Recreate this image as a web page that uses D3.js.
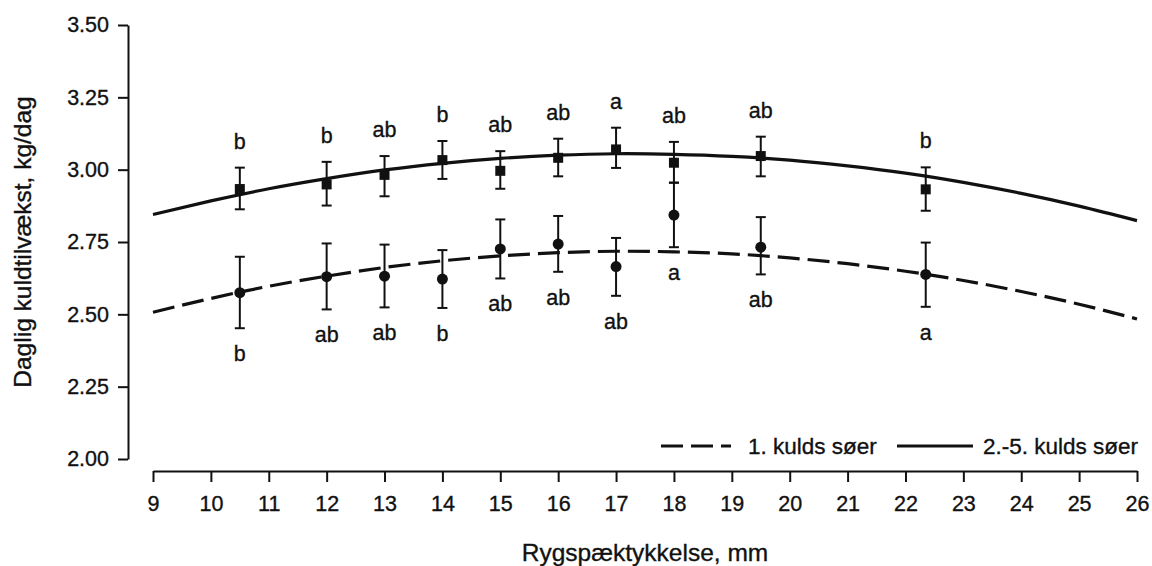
<!DOCTYPE html>
<html>
<head>
<meta charset="utf-8">
<script src="https://cdn.jsdelivr.net/npm/d3@7"></script>
<style>
  body { margin: 0; background: #fff; }
  text { font-family: Arial, "Liberation Sans", sans-serif; fill: #111; stroke: #111; stroke-width: 0.35px; }
</style>
</head>
<body>
<div id="chart"></div>
<script>
// data
var pointX = [10.5, 12, 13, 14, 15, 16, 17, 18, 19.5, 22.35];

// 2.-5. kulds søer (squares)
var laterMean  = [2.933, 2.949, 2.982, 3.033, 2.996, 3.041, 3.070, 3.024, 3.047, 2.932];
var laterUpper = [3.007, 3.027, 3.047, 3.099, 3.064, 3.107, 3.145, 3.096, 3.114, 3.008];
var laterLower = [2.863, 2.876, 2.908, 2.968, 2.934, 2.977, 3.006, 2.955, 2.977, 2.858];
var laterLetters = ["b", "b", "ab", "b", "ab", "ab", "a", "ab", "ab", "b"];

// 1. kulds søer (circles)
var firstMean  = [2.575, 2.630, 2.632, 2.622, 2.726, 2.743, 2.665, 2.843, 2.732, 2.638];
var firstUpper = [2.699, 2.745, 2.741, 2.722, 2.828, 2.840, 2.764, 2.955, 2.836, 2.748];
var firstLower = [2.452, 2.517, 2.524, 2.522, 2.624, 2.647, 2.564, 2.732, 2.638, 2.526];
var firstLetters = ["b", "ab", "ab", "b", "ab", "ab", "ab", "a", "ab", "a"];

// fitted curves, read at each mm
var curveX     = [9, 10, 11, 12, 13, 14, 15, 16, 17, 18, 19, 20, 21, 22, 23, 24, 25, 26];
var laterCurve = [2.845, 2.892, 2.934, 2.969, 2.999, 3.022, 3.039, 3.050, 3.055, 3.053, 3.046, 3.033, 3.013, 2.988, 2.956, 2.918, 2.874, 2.824];
var firstCurve = [2.507, 2.555, 2.597, 2.632, 2.662, 2.685, 2.702, 2.713, 2.718, 2.716, 2.709, 2.695, 2.675, 2.649, 2.617, 2.579, 2.535, 2.484];

var xTicks = d3.range(9, 27);
var yTicks = [2.00, 2.25, 2.50, 2.75, 3.00, 3.25, 3.50];

var svgWidth = 1152;
var svgHeight = 566;

var svg = d3.select("#chart")
    .append("svg")
    .attr("width", svgWidth)
    .attr("height", svgHeight);

var xScale = d3.scaleLinear().domain([9, 26]).range([153, 1137]);
var yScale = d3.scaleLinear().domain([2, 3.5]).range([459, 25]);

// axes (detached, R style)
var yAxis = svg.append("g")
    .attr("transform", "translate(128,0)")
    .call(d3.axisLeft(yScale).tickValues(yTicks).tickFormat(d3.format(".2f"))
        .tickSize(10).tickSizeOuter(0).tickPadding(9));

var xAxis = svg.append("g")
    .attr("transform", "translate(0,471)")
    .call(d3.axisBottom(xScale).tickValues(xTicks).tickFormat(d3.format("d"))
        .tickSize(11).tickSizeOuter(0).tickPadding(14));

[yAxis, xAxis].forEach(function(ax) {
    ax.selectAll("path, line").attr("stroke", "#111").attr("stroke-width", 2);
    ax.selectAll("text").attr("font-size", 21.5).attr("fill", "#111");
});

// axis titles
svg.append("text")
    .attr("transform", "translate(31,242) rotate(-90)")
    .attr("text-anchor", "middle")
    .attr("font-size", 24.5)
    .text("Daglig kuldtilvækst, kg/dag");

svg.append("text")
    .attr("x", 645)
    .attr("y", 561)
    .attr("text-anchor", "middle")
    .attr("font-size", 24.5)
    .text("Rygspæktykkelse, mm");

// fitted curves
var line = d3.line()
    .x(d => xScale(d[0]))
    .y(d => yScale(d[1]))
    .curve(d3.curveNatural);

svg.append("path")
    .datum(curveX.map((x, i) => [x, laterCurve[i]]))
    .attr("d", line)
    .attr("fill", "none")
    .attr("stroke", "#111")
    .attr("stroke-width", 3.2);

svg.append("path")
    .datum(curveX.map((x, i) => [x, firstCurve[i]]))
    .attr("d", line)
    .attr("fill", "none")
    .attr("stroke", "#111")
    .attr("stroke-width", 3.2)
    .attr("stroke-dasharray", "22,8");

// error bars + markers
function drawSeries(mean, upper, lower, letters, shape, above) {
    var g = svg.append("g");
    var rows = pointX.map((x, i) => ({x: x, m: mean[i], hi: upper[i], lo: lower[i], t: letters[i]}));

    g.selectAll(".bar").data(rows).enter().append("line")
        .attr("x1", d => xScale(d.x)).attr("x2", d => xScale(d.x))
        .attr("y1", d => yScale(d.hi)).attr("y2", d => yScale(d.lo))
        .attr("stroke", "#111").attr("stroke-width", 2);

    ["hi", "lo"].forEach(function(k) {
        g.selectAll(".cap" + k).data(rows).enter().append("line")
            .attr("x1", d => xScale(d.x) - 5).attr("x2", d => xScale(d.x) + 5)
            .attr("y1", d => yScale(d[k])).attr("y2", d => yScale(d[k]))
            .attr("stroke", "#111").attr("stroke-width", 2);
    });

    if (shape == "square") {
        g.selectAll(".pt").data(rows).enter().append("rect")
            .attr("x", d => xScale(d.x) - 5).attr("y", d => yScale(d.m) - 5)
            .attr("width", 10).attr("height", 10)
            .attr("fill", "#111");
    } else {
        g.selectAll(".pt").data(rows).enter().append("circle")
            .attr("cx", d => xScale(d.x)).attr("cy", d => yScale(d.m))
            .attr("r", 5.5)
            .attr("fill", "#111");
    }

    g.selectAll(".lbl").data(rows).enter().append("text")
        .attr("x", d => xScale(d.x))
        .attr("y", d => above ? yScale(d.hi) - 19 : yScale(d.lo) + 33)
        .attr("text-anchor", "middle")
        .attr("font-size", 21.5)
        .text(d => d.t);
}

drawSeries(laterMean, laterUpper, laterLower, laterLetters, "square", true);
drawSeries(firstMean, firstUpper, firstLower, firstLetters, "circle", false);

// legend
var legend = svg.append("g");
legend.append("line")
    .attr("x1", 661).attr("x2", 731).attr("y1", 446).attr("y2", 446)
    .attr("stroke", "#111").attr("stroke-width", 3.2)
    .attr("stroke-dasharray", "22,8");
legend.append("text")
    .attr("x", 748).attr("y", 454)
    .attr("font-size", 22.5)
    .text("1. kulds søer");
legend.append("line")
    .attr("x1", 897).attr("x2", 973).attr("y1", 446).attr("y2", 446)
    .attr("stroke", "#111").attr("stroke-width", 3.2);
legend.append("text")
    .attr("x", 983).attr("y", 454)
    .attr("font-size", 22.5)
    .text("2.-5. kulds søer");
</script>
</body>
</html>
